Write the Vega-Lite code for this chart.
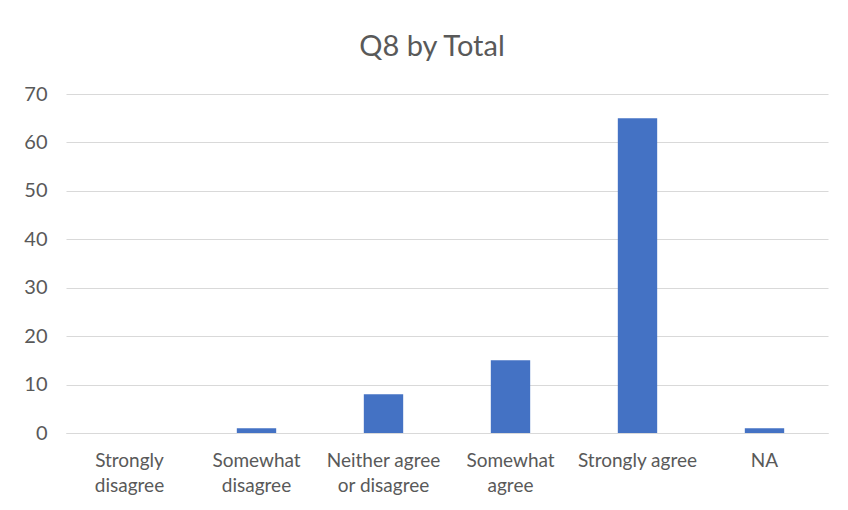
{
  "$schema": "https://vega.github.io/schema/vega-lite/v6.json",
  "autosize": "none",
  "width": 762,
  "height": 339,
  "padding": {"left": 66, "top": 94, "right": 20, "bottom": 77},
  "background": "white",
  "title": {
    "text": "Q8 by Total",
    "anchor": "middle",
    "dx": -15,
    "offset": 22,
    "fontSize": 29,
    "fontWeight": "normal",
    "font": "Lato",
    "color": "#595959"
  },
  "data": {
    "values": [
      {"response": "Strongly disagree", "count": 0},
      {"response": "Somewhat disagree", "count": 1},
      {"response": "Neither agree or disagree", "count": 8},
      {"response": "Somewhat agree", "count": 15},
      {"response": "Strongly agree", "count": 65},
      {"response": "NA", "count": 1}
    ]
  },
  "mark": {"type": "bar", "color": "#4472C4"},
  "encoding": {
    "x": {
      "field": "response",
      "type": "nominal",
      "sort": null,
      "scale": {"paddingInner": 0.69, "paddingOuter": 0.345},
      "axis": {
        "title": null,
        "labelAngle": 0,
        "ticks": false,
        "domain": true,
        "domainColor": "#D9D9D9",
        "domainWidth": 1,
        "labelPadding": 18,
        "labelFont": "Lato",
        "labelFontSize": 19,
        "labelColor": "#595959",
        "labelLineHeight": 25,
        "labelBaseline": "top",
        "labelExpr": "datum.value == 'Strongly disagree' ? ['Strongly', 'disagree'] : datum.value == 'Somewhat disagree' ? ['Somewhat', 'disagree'] : datum.value == 'Neither agree or disagree' ? ['Neither agree', 'or disagree'] : datum.value == 'Somewhat agree' ? ['Somewhat', 'agree'] : datum.value"
      }
    },
    "y": {
      "field": "count",
      "type": "quantitative",
      "scale": {"domain": [0, 70], "nice": false},
      "axis": {
        "title": null,
        "values": [0, 10, 20, 30, 40, 50, 60, 70],
        "ticks": false,
        "domain": false,
        "grid": true,
        "gridColor": "#D9D9D9",
        "gridWidth": 1,
        "labelPadding": 19,
        "labelFont": "Lato",
        "labelFontSize": 20,
        "labelColor": "#595959"
      }
    }
  },
  "config": {
    "view": {"stroke": null}
  }
}
